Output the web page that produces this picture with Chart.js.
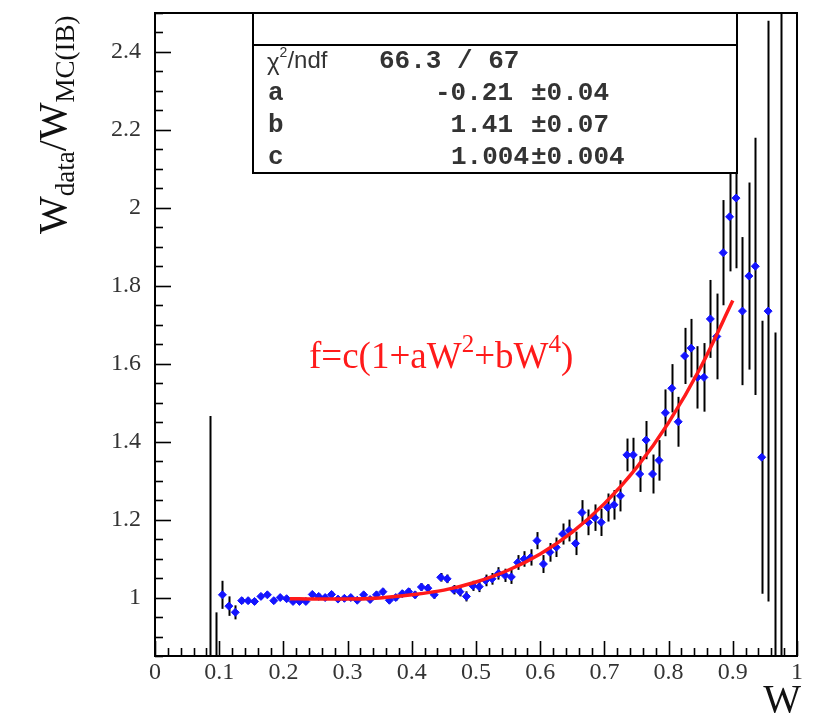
<!DOCTYPE html>
<html>
<head>
<meta charset="utf-8">
<script src="https://cdn.jsdelivr.net/npm/chart.js@4.4.0/dist/chart.umd.min.js"></script>
<style>
html, body { margin: 0; padding: 0; background: #fff; }
#wrap { width: 820px; height: 716px; }
</style>
</head>
<body>
<div id="wrap"><canvas id="c" width="820" height="716"></canvas></div>
<script>
// bin centres (W), ratio and its error
const binW = [0.085, 0.095, 0.105, 0.115, 0.125, 0.135, 0.145, 0.155, 0.165, 0.175,
  0.185, 0.195, 0.205, 0.215, 0.225, 0.235, 0.245, 0.255, 0.265, 0.275,
  0.285, 0.295, 0.305, 0.315, 0.325, 0.335, 0.345, 0.355, 0.365, 0.375,
  0.385, 0.395, 0.405, 0.415, 0.425, 0.435, 0.445, 0.455, 0.465, 0.475,
  0.485, 0.495, 0.505, 0.515, 0.525, 0.535, 0.545, 0.555, 0.565, 0.575,
  0.585, 0.595, 0.605, 0.615, 0.625, 0.635, 0.645, 0.655, 0.665, 0.675,
  0.685, 0.695, 0.705, 0.715, 0.725, 0.735, 0.745, 0.755, 0.765, 0.775,
  0.785, 0.795, 0.805, 0.815, 0.825, 0.835, 0.845, 0.855, 0.865, 0.875,
  0.885, 0.895, 0.905, 0.915, 0.925, 0.935, 0.945, 0.955, 0.965, 0.975];
const ratio = [0.70, 0.80, 1.007, 0.978, 0.962, 0.992, 0.992, 0.990, 1.003, 1.007,
  0.992, 1.000, 0.997, 0.990, 0.990, 0.990, 1.008, 1.003, 1.000, 1.008,
  0.996, 0.998, 1.000, 0.993, 1.007, 0.995, 1.007, 1.015, 0.993, 1.000,
  1.010, 1.015, 1.007, 1.027, 1.024, 1.007, 1.052, 1.048, 1.020, 1.015,
  1.003, 1.030, 1.028, 1.044, 1.048, 1.062, 1.057, 1.053, 1.090, 1.099,
  1.103, 1.146, 1.086, 1.116, 1.129, 1.163, 1.172, 1.139, 1.218, 1.193,
  1.205, 1.193, 1.231, 1.238, 1.261, 1.366, 1.366, 1.317, 1.404, 1.317,
  1.352, 1.474, 1.537, 1.451, 1.620, 1.640, 1.565, 1.565, 1.715, 1.670,
  1.885, 1.977, 2.025, 1.735, 1.825, 1.850, 1.360, 1.735, 0.750, 0.400];
const ratioErr = [0.766, 0.162, 0.036, 0.025, 0.018, 0.008, 0.008, 0.007, 0.007, 0.007,
  0.007, 0.007, 0.007, 0.007, 0.007, 0.007, 0.007, 0.007, 0.007, 0.007,
  0.007, 0.007, 0.007, 0.007, 0.007, 0.008, 0.008, 0.008, 0.008, 0.008,
  0.009, 0.009, 0.009, 0.010, 0.010, 0.010, 0.011, 0.011, 0.012, 0.012,
  0.013, 0.013, 0.014, 0.015, 0.015, 0.016, 0.017, 0.018, 0.019, 0.020,
  0.021, 0.022, 0.023, 0.024, 0.025, 0.027, 0.028, 0.030, 0.032, 0.033,
  0.034, 0.035, 0.036, 0.038, 0.040, 0.042, 0.044, 0.046, 0.049, 0.050,
  0.052, 0.060, 0.062, 0.064, 0.072, 0.075, 0.080, 0.088, 0.100, 0.110,
  0.135, 0.140, 0.180, 0.190, 0.240, 0.330, 0.350, 0.745, 0.930, 2.300];

// fitted curve f = c(1 + aW^2 + bW^4)
const fitW = [0.21, 0.25, 0.30, 0.35, 0.40, 0.45, 0.50, 0.55, 0.60, 0.65, 0.70, 0.75, 0.80, 0.85, 0.90];
const fitVal = [0.997, 0.996, 0.996, 0.999, 1.007, 1.019, 1.040, 1.070, 1.112, 1.168, 1.241, 1.333, 1.449, 1.591, 1.762];

const xTicks = [0, 0.1, 0.2, 0.3, 0.4, 0.5, 0.6, 0.7, 0.8, 0.9, 1];
const yTicks = [1, 1.2, 1.4, 1.6, 1.8, 2, 2.2, 2.4];

const statLabels = ['a', 'b', 'c'];
const statValues = ['-0.21', '1.41', '1.004'];
const statErrors = ['\u00b10.04', '\u00b10.07', '\u00b10.004'];

const SERIF = '"Liberation Serif", "Times New Roman", serif';
const MONO = '"Liberation Mono", "Courier New", monospace';

function drawParts(ctx, parts, x, y) {
  parts.forEach(p => {
    ctx.font = p.size + 'px ' + SERIF;
    ctx.fillText(p.t, x, y + p.dy);
    x += ctx.measureText(p.t).width;
  });
}

const rootStyle = {
  id: 'rootStyle',
  beforeDatasetsDraw(chart) {
    const { ctx, chartArea: a, scales: { x, y } } = chart;
    ctx.save();
    ctx.beginPath();
    ctx.rect(a.left, a.top, a.right - a.left, a.bottom - a.top);
    ctx.clip();
    ctx.strokeStyle = '#000';
    ctx.lineWidth = 2;
    binW.forEach((w, i) => {
      const px = Math.round(x.getPixelForValue(w)) + 0.5;
      ctx.beginPath();
      ctx.moveTo(px, y.getPixelForValue(ratio[i] - ratioErr[i]));
      ctx.lineTo(px, y.getPixelForValue(ratio[i] + ratioErr[i]));
      ctx.stroke();
    });
    ctx.restore();
  },
  afterDatasetsDraw(chart) {
    const { ctx, chartArea: a, scales: { x, y } } = chart;
    ctx.save();
    ctx.strokeStyle = '#000';
    ctx.lineWidth = 1.6;
    // ticks on x axis
    for (let k = 0; k <= 50; k++) {
      const px = Math.round(x.getPixelForValue(k * 0.02)) + 0.5;
      const len = k % 5 === 0 ? 15 : 8;
      ctx.beginPath();
      ctx.moveTo(px, a.bottom);
      ctx.lineTo(px, a.bottom - len);
      ctx.stroke();
    }
    // ticks on y axis
    for (let k = 0; k <= 33; k++) {
      const v = 0.85 + k * 0.05;
      const py = Math.round(y.getPixelForValue(v)) + 0.5;
      const major = Math.abs(((v - 1) / 0.2) - Math.round((v - 1) / 0.2)) < 1e-6;
      ctx.beginPath();
      ctx.moveTo(a.left, py);
      ctx.lineTo(a.left + (major ? 16 : 8), py);
      ctx.stroke();
    }
    // frame
    ctx.lineWidth = 2;
    ctx.strokeRect(a.left, a.top, a.right - a.left, a.bottom - a.top);

    // stats box
    const bx = 253, by = 13, bw = 484, bh = 160;
    ctx.fillStyle = '#fff';
    ctx.fillRect(bx, by, bw, bh);
    ctx.strokeRect(bx, by, bw, bh);
    ctx.beginPath();
    ctx.moveTo(bx, 45);
    ctx.lineTo(bx + bw, 45);
    ctx.stroke();
    ctx.fillStyle = '#333';
    ctx.textBaseline = 'middle';
    ctx.textAlign = 'left';
    ctx.font = '24px "Liberation Sans", Arial, sans-serif';
    ctx.fillText('\u03c7', 267, 63);
    let cx = 267 + ctx.measureText('\u03c7').width;
    ctx.font = '14px "Liberation Sans", Arial, sans-serif';
    ctx.fillText('2', cx, 53);
    cx += ctx.measureText('2').width;
    ctx.font = '24px "Liberation Sans", Arial, sans-serif';
    ctx.fillText('/ndf', cx, 61);
    ctx.font = 'bold 26px ' + MONO;
    ctx.fillText('66.3 / 67', 379, 61);
    statLabels.forEach((lab, i) => {
      const ry = 93 + i * 32;
      ctx.textAlign = 'left';
      ctx.fillText(lab, 268, ry);
      ctx.textAlign = 'right';
      ctx.fillText(statValues[i], i === 2 ? 529 : 513, ry);
      ctx.textAlign = 'left';
      ctx.fillText(statErrors[i], 531, ry);
    });

    // fit formula
    ctx.fillStyle = '#ff1a1a';
    ctx.textBaseline = 'alphabetic';
    ctx.textAlign = 'left';
    drawParts(ctx, [
      { t: 'f=c(1+aW', size: 37, dy: 0 },
      { t: '2', size: 25, dy: -16 },
      { t: '+bW', size: 37, dy: 0 },
      { t: '4', size: 25, dy: -16 },
      { t: ')', size: 37, dy: 0 }
    ], 309, 368);

    // axis titles
    ctx.fillStyle = '#111';
    ctx.textAlign = 'right';
    ctx.font = '40px ' + SERIF;
    ctx.fillText('W', 801, 712);
    ctx.save();
    ctx.translate(66, 234);
    ctx.rotate(-Math.PI / 2);
    ctx.textAlign = 'left';
    drawParts(ctx, [
      { t: 'W', size: 40, dy: 0 },
      { t: 'data', size: 27, dy: 8 },
      { t: '/W', size: 40, dy: 0 },
      { t: 'MC(IB)', size: 27, dy: 8 }
    ], 0, 0);
    ctx.restore();
    ctx.restore();
  }
};

const points = binW.map((w, i) => ({ x: w, y: ratio[i] }));
const fitPoints = fitW.map((w, i) => ({ x: w, y: fitVal[i] }));

new Chart(document.getElementById('c'), {
  type: 'scatter',
  data: {
    datasets: [
      {
        label: 'fit',
        type: 'line',
        data: fitPoints,
        borderColor: '#ff1a1a',
        borderWidth: 3.5,
        pointRadius: 0,
        cubicInterpolationMode: 'monotone',
        fill: false,
        clip: 0
      },
      {
        label: 'ratio',
        data: points,
        pointStyle: 'rectRot',
        pointRadius: 4,
        backgroundColor: '#1414ff',
        borderColor: '#1414ff',
        borderWidth: 1,
        clip: 0
      }
    ]
  },
  options: {
    responsive: false,
    animation: false,
    devicePixelRatio: 1,
    layout: { padding: { top: 13, right: 23, left: 0, bottom: 0 } },
    plugins: { legend: { display: false }, tooltip: { enabled: false } },
    scales: {
      x: {
        type: 'linear',
        min: 0,
        max: 1,
        afterFit: s => { s.height = 60; s.paddingLeft = 0; s.paddingRight = 0; },
        afterBuildTicks: s => { s.ticks = xTicks.map(v => ({ value: v })); },
        grid: { display: false, drawTicks: false },
        border: { display: false },
        ticks: {
          autoSkip: false,
          maxRotation: 0,
          padding: 2,
          color: '#333',
          font: { family: SERIF, size: 24 },
          callback: v => (Math.round(v * 10) / 10).toString()
        }
      },
      y: {
        type: 'linear',
        min: 0.85,
        max: 2.5,
        afterFit: s => { s.width = 155; s.paddingTop = 0; s.paddingBottom = 0; },
        afterBuildTicks: s => { s.ticks = yTicks.map(v => ({ value: v })); },
        grid: { display: false, drawTicks: false },
        border: { display: false },
        ticks: {
          autoSkip: false,
          padding: 14,
          color: '#333',
          font: { family: SERIF, size: 24 },
          callback: v => (Math.round(v * 10) / 10).toString()
        }
      }
    }
  },
  plugins: [rootStyle]
});
</script>
</body>
</html>
